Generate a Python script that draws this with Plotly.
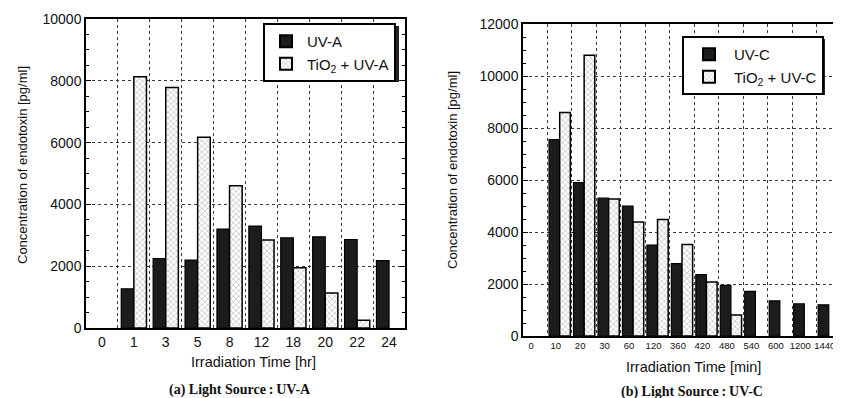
import plotly.graph_objects as go

# ---- data ----
times_a = ['0', '1', '3', '5', '8', '12', '18', '20', '22', '24']
uva = [None, 1270, 2250, 2200, 3200, 3300, 2920, 2950, 2860, 2180]
tio2_uva = [None, 8130, 7780, 6170, 4600, 2850, 1950, 1130, 250, None]

times_c = ['0', '10', '20', '30', '60', '120', '360', '420', '480', '540', '600', '1200', '1440']
uvc = [None, 7550, 5900, 5300, 5000, 3500, 2780, 2360, 1950, 1720, 1350, 1240, 1200]
tio2_uvc = [None, 8600, 10800, 5270, 4380, 4480, 3520, 2080, 810, None, None, None, None]

# the page body has an 8px margin: figure covers window pixels 8..841 x 8..398
OFF = 8
W, H = 841 - OFF, 398 - OFF
FONT = "Arial"
DARK = "#1c1c1c"
TXT = "#111111"


def px(x):
    return (x - OFF) / W


def py(y):
    return 1 - (y - OFF) / H


fig = go.Figure()

wa = 0.395
wc = 0.435
dark_style = dict(color=DARK, line=dict(color="black", width=1.2))
hatch_style = dict(color="white", line=dict(color="black", width=1.5),
                   pattern=dict(shape="x", size=4, solidity=0.3, fgcolor="#707070", bgcolor="white"))

fig.add_trace(go.Bar(x=times_a, y=uva, name="UV-A", marker=dark_style,
                     width=wa, offset=-wa, xaxis="x", yaxis="y", legend="legend"))
fig.add_trace(go.Bar(x=times_a, y=tio2_uva, name="TiO<sub>2</sub> + UV-A", marker=hatch_style,
                     width=wa, offset=0, xaxis="x", yaxis="y", legend="legend"))
fig.add_trace(go.Bar(x=times_c, y=uvc, name="UV-C", marker=dark_style,
                     width=wc, offset=-wc, xaxis="x2", yaxis="y2", legend="legend2"))
fig.add_trace(go.Bar(x=times_c, y=tio2_uvc, name="TiO<sub>2</sub> + UV-C", marker=hatch_style,
                     width=wc, offset=0, xaxis="x2", yaxis="y2", legend="legend2"))

grid = dict(showgrid=True, gridcolor="#3a3a3a", griddash="dot", gridwidth=1)
line = dict(showline=True, linecolor="black", linewidth=1.5)

xdomA = [px(86), px(405)]
ydomA = [py(328), py(19)]
xdomC = [px(523), 1.0]
ydomC = [py(336), py(24)]

layout = dict(
    width=W, height=H,
    margin=dict(l=0, r=0, t=0, b=0, autoexpand=False),
    paper_bgcolor="white", plot_bgcolor="white",
    font=dict(family=FONT, color=TXT),
    barmode="group",
    xaxis=dict(domain=xdomA, anchor="y", type="category", categoryorder="array",
               categoryarray=times_a, range=[-0.5, 9.5], tickson="boundaries",
               ticks="", mirror=True, tickangle=0, tickfont=dict(size=14), **grid, **line),
    yaxis=dict(domain=ydomA, anchor="x", range=[0, 10000], dtick=2000, tickformat="d",
               ticks="inside", ticklen=5, tickwidth=1, tickcolor="black", mirror="ticks",
               minor=dict(ticks="inside", dtick=500, ticklen=3, tickcolor="black", showgrid=False),
               zeroline=False, tickfont=dict(size=14), **grid, **line),
    xaxis3=dict(overlaying="x", anchor="y", side="top", type="linear", range=[-0.5, 9.5],
                tickmode="array", tickvals=list(range(len(times_a))), ticks="inside", ticklen=4,
                tickcolor="black", showticklabels=False, showgrid=False, zeroline=False, showline=False),
    xaxis2=dict(domain=xdomC, anchor="y2", type="category", categoryorder="array",
                categoryarray=times_c, range=[-0.5, 12.5], tickson="boundaries",
                ticks="", mirror=True, tickangle=0, ticklabelshift=-4,
                tickfont=dict(size=9.5), **grid, **line),
    yaxis2=dict(domain=ydomC, anchor="x2", range=[0, 12000], dtick=2000, tickformat="d",
                ticks="inside", ticklen=5, tickwidth=1, tickcolor="black", mirror="ticks",
                minor=dict(ticks="inside", dtick=500, ticklen=3, tickcolor="black", showgrid=False),
                zeroline=False, tickfont=dict(size=14), **grid, **line),
    xaxis4=dict(overlaying="x2", anchor="y2", side="top", type="linear", range=[-0.5, 12.5],
                tickmode="array", tickvals=list(range(len(times_c))), ticks="inside", ticklen=4,
                tickcolor="black", showticklabels=False, showgrid=False, zeroline=False, showline=False),
    legend=dict(x=px(263), y=py(23), xanchor="left", yanchor="top", bgcolor="white",
                bordercolor="black", borderwidth=2, font=dict(size=15, family=FONT),
                tracegroupgap=0, itemsizing="constant", itemwidth=32),
    legend2=dict(x=px(682), y=py(36), xanchor="left", yanchor="top", bgcolor="white",
                 bordercolor="black", borderwidth=2, font=dict(size=15, family=FONT),
                 tracegroupgap=0, itemsizing="constant", itemwidth=40),
    showlegend=True,
)
fig.update_layout(**layout)

# legend drop shadows (drawn under the legend boxes, offset right/down)
fig.add_shape(type="rect", xref="paper", yref="paper", x0=px(266), x1=px(399), y0=py(82), y1=py(26),
              fillcolor="#222", line=dict(width=0), layer="above")
fig.add_shape(type="rect", xref="paper", yref="paper", x0=px(685), x1=px(825), y0=py(95), y1=py(39),
              fillcolor="#222", line=dict(width=0), layer="above")

ann = [
    dict(text="Concentration of endotoxin [pg/ml]", x=px(22), y=py(165), textangle=-90, size=13, fam=FONT),
    dict(text="Irradiation Time [hr]", x=px(254), y=py(362), size=14.5, fam=FONT),
    dict(text="<b>(a) Light Source\u2009:\u2009UV-A</b>", x=px(240), y=py(390), size=14, fam="Liberation Serif"),
    dict(text="Concentration of endotoxin [pg/ml]", x=px(452), y=py(170), textangle=-90, size=13, fam=FONT),
    dict(text="Irradiation Time [min]", x=px(693), y=py(367), size=14.5, fam=FONT),
    dict(text="<b>(b) Light Source\u2009:\u2009UV-C</b>", x=px(692), y=py(392), size=14, fam="Liberation Serif"),
]
for a in ann:
    fig.add_annotation(text=a["text"], x=a["x"], y=a["y"], xref="paper", yref="paper",
                       xanchor="center", yanchor="middle", showarrow=False,
                       textangle=a.get("textangle", 0),
                       font=dict(size=a["size"], family=a["fam"], color=TXT))

fig.write_html("out.html")
